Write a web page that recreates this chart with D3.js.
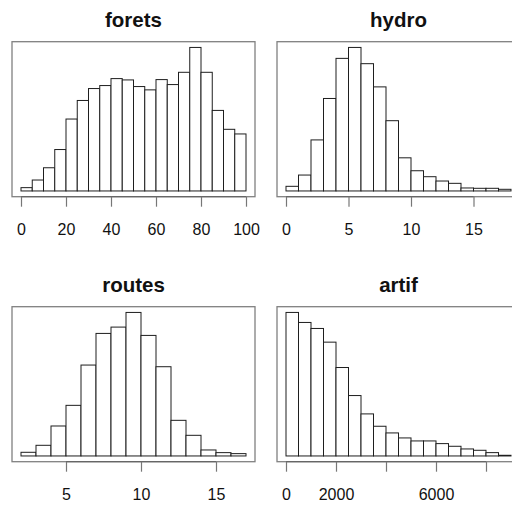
<!DOCTYPE html>
<html>
<head>
<meta charset="utf-8">
<script src="https://cdn.jsdelivr.net/npm/d3@7"></script>
<style>
  body { margin: 0; background: #fff; }
  svg { display: block; font-family: "Liberation Sans", Arial, sans-serif; }
</style>
</head>
<body>
<div id="chart"></div>
<script>
// histogram bin edges and counts
const foretsBreaks = [0, 5, 10, 15, 20, 25, 30, 35, 40, 45, 50, 55, 60, 65, 70, 75, 80, 85, 90, 95, 100]
const foretsCounts = [10, 33, 70, 125, 217, 273, 309, 318, 339, 335, 315, 305, 336, 321, 358, 433, 358, 243, 186, 172]
const foretsTicks = [0, 20, 40, 60, 80, 100]
const foretsLabels = ['0', '20', '40', '60', '80', '100']

const hydroBreaks = [0, 1, 2, 3, 4, 5, 6, 7, 8, 9, 10, 11, 12, 13, 14, 15, 16, 17, 18]
const hydroCounts = [14, 48, 154, 279, 400, 433, 384, 314, 212, 100, 61, 43, 30, 23, 9, 8, 8, 5]
const hydroTicks = [0, 5, 10, 15]
const hydroLabels = ['0', '5', '10', '15']

const routesBreaks = [2, 3, 4, 5, 6, 7, 8, 9, 10, 11, 12, 13, 14, 15, 16, 17]
const routesCounts = [11, 32, 90, 152, 273, 368, 387, 431, 362, 268, 107, 62, 18, 10, 7]
const routesTicks = [5, 10, 15]
const routesLabels = ['5', '10', '15']

const artifBreaks = [0, 500, 1000, 1500, 2000, 2500, 3000, 3500, 4000, 4500, 5000, 5500, 6000, 6500, 7000, 7500, 8000, 8500, 9000]
const artifCounts = [430, 400, 382, 341, 265, 181, 126, 89, 69, 54, 45, 45, 37, 29, 21, 17, 10, 2]
const artifTicks = [0, 2000, 4000, 6000, 8000]
const artifLabels = ['0', '2000', '', '6000', '']

const panels = [
  { title: 'forets', breaks: foretsBreaks, counts: foretsCounts, ticks: foretsTicks, labels: foretsLabels, col: 0, row: 0 },
  { title: 'hydro', breaks: hydroBreaks, counts: hydroCounts, ticks: hydroTicks, labels: hydroLabels, col: 1, row: 0 },
  { title: 'routes', breaks: routesBreaks, counts: routesCounts, ticks: routesTicks, labels: routesLabels, col: 0, row: 1 },
  { title: 'artif', breaks: artifBreaks, counts: artifCounts, ticks: artifTicks, labels: artifLabels, col: 1, row: 1 }
]

const W = 512
const H = 506
const boxW = 243
const boxH = 155
const boxX = [12, 277]
const boxY = [41.7, 306.7]

const svg = d3.select('#chart')
  .append('svg')
  .attr('width', W)
  .attr('height', H)

panels.forEach(function (p) {
  const left = boxX[p.col]
  const top = boxY[p.row]
  const lo = p.breaks[0]
  const hi = p.breaks[p.breaks.length - 1]
  const r = hi - lo
  const maxC = d3.max(p.counts)

  // R style 4% padding on both axes
  const x = d3.scaleLinear().domain([lo - 0.04 * r, hi + 0.04 * r]).range([left, left + boxW])
  const y = d3.scaleLinear().domain([-0.04 * maxC, 1.04 * maxC]).range([top + boxH, top])

  const g = svg.append('g')

  const bins = p.counts.map(function (c, i) {
    return { x0: p.breaks[i], x1: p.breaks[i + 1], count: c }
  })

  g.selectAll('rect.bar')
    .data(bins)
    .enter().append('rect')
    .attr('class', 'bar')
    .attr('x', function (d) { return x(d.x0) })
    .attr('y', function (d) { return y(d.count) })
    .attr('width', function (d) { return x(d.x1) - x(d.x0) })
    .attr('height', function (d) { return y(0) - y(d.count) })
    .style('fill', '#fff')
    .style('stroke', '#1e1e1e')
    .style('stroke-width', 1)

  g.append('rect')
    .attr('x', left)
    .attr('y', top)
    .attr('width', boxW)
    .attr('height', boxH)
    .style('fill', 'none')
    .style('stroke', '#808080')
    .style('stroke-width', 1.3)

  const axis = d3.axisBottom(x)
    .tickValues(p.ticks)
    .tickFormat(function (d, i) { return p.labels[i] })
    .tickSize(10)
    .tickSizeOuter(0)
    .tickPadding(17)

  const ax = g.append('g')
    .attr('transform', 'translate(0,' + (top + boxH) + ')')
    .call(axis)

  ax.select('.domain')
    .attr('d', 'M' + x(p.ticks[0]) + ',0H' + x(p.ticks[p.ticks.length - 1]))
    .style('stroke', '#666')
    .style('stroke-width', 1.2)
  ax.selectAll('.tick line').style('stroke', '#777').style('stroke-width', 1.2)
  ax.selectAll('.tick text')
    .style('font-size', '16px')
    .style('fill', '#111')
    .style('font-family', '"Liberation Sans", Arial, sans-serif')

  g.append('text')
    .attr('x', left + boxW / 2 - (p.col === 1 ? 0 : 0))
    .attr('y', top - 15)
    .attr('text-anchor', 'middle')
    .style('font-size', '20.5px')
    .style('font-weight', 'bold')
    .style('fill', '#111')
    .text(p.title)
})
</script>
</body>
</html>
